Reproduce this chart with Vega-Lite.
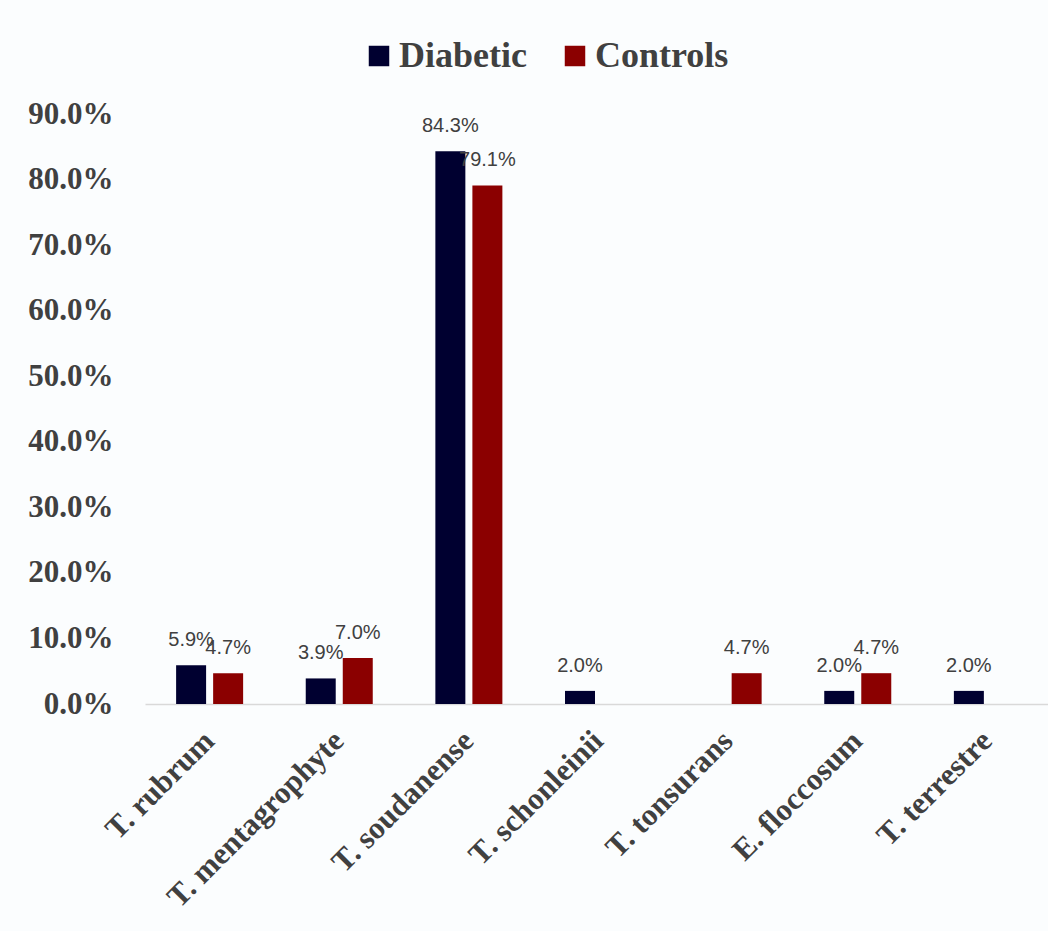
{
  "$schema": "https://vega.github.io/schema/vega-lite/v6.json",
  "width": 907,
  "height": 590,
  "autosize": {"type": "none"},
  "padding": {"left": 145, "top": 114, "right": 0, "bottom": 227},
  "background": "#fbfdfe",
  "config": {"view": {"stroke": null}},
  "data": {
    "values": [
      {"species": "T. rubrum", "group": "Diabetic", "value": 0.059},
      {"species": "T. rubrum", "group": "Controls", "value": 0.047},
      {"species": "T. mentagrophyte", "group": "Diabetic", "value": 0.039},
      {"species": "T. mentagrophyte", "group": "Controls", "value": 0.070},
      {"species": "T. soudanense", "group": "Diabetic", "value": 0.843},
      {"species": "T. soudanense", "group": "Controls", "value": 0.791},
      {"species": "T. schonleinii", "group": "Diabetic", "value": 0.020},
      {"species": "T. tonsurans", "group": "Controls", "value": 0.047},
      {"species": "E. floccosum", "group": "Diabetic", "value": 0.020},
      {"species": "E. floccosum", "group": "Controls", "value": 0.047},
      {"species": "T. terrestre", "group": "Diabetic", "value": 0.020}
    ]
  },
  "encoding": {
    "x": {
      "field": "species",
      "type": "nominal",
      "sort": null,
      "scale": {"paddingInner": 0.483, "paddingOuter": 0.24},
      "axis": {
        "title": null,
        "labelAngle": -45,
        "labelAlign": "right",
        "labelBaseline": "middle",
        "labelFont": "Liberation Serif",
        "labelFontWeight": "bold",
        "labelFontSize": 31,
        "labelColor": "#404040",
        "labelPadding": 32,
        "labelLimit": 500,
        "ticks": false,
        "domainColor": "#d9d9d9",
        "domainWidth": 1.5
      }
    },
    "xOffset": {
      "field": "group",
      "type": "nominal",
      "sort": ["Diabetic", "Controls"],
      "scale": {"domain": ["Diabetic", "Controls"], "paddingInner": 0.19, "paddingOuter": 0}
    },
    "y": {
      "field": "value",
      "type": "quantitative",
      "scale": {"domain": [0, 0.9]},
      "axis": {
        "title": null,
        "values": [0, 0.1, 0.2, 0.3, 0.4, 0.5, 0.6, 0.7, 0.8, 0.9],
        "format": ".1%",
        "grid": false,
        "domain": false,
        "ticks": false,
        "labelFont": "Liberation Serif",
        "labelFontWeight": "bold",
        "labelFontSize": 31,
        "labelColor": "#404040",
        "labelPadding": 32
      }
    }
  },
  "layer": [
    {
      "mark": {"type": "bar"},
      "encoding": {
        "color": {
          "field": "group",
          "type": "nominal",
          "sort": ["Diabetic", "Controls"],
          "scale": {"domain": ["Diabetic", "Controls"], "range": ["#000030", "#8b0000"]},
          "legend": {
            "title": null,
            "orient": "none",
            "direction": "horizontal",
            "legendX": 216,
            "legendY": -76,
            "symbolType": "square",
            "symbolSize": 420,
            "symbolStrokeWidth": 0,
            "labelFont": "Liberation Serif",
            "labelFontWeight": "bold",
            "labelFontSize": 36,
            "labelColor": "#404040",
            "labelOffset": 2,
            "columnPadding": 30,
            "labelLimit": 300
          }
        }
      }
    },
    {
      "mark": {"type": "text", "baseline": "alphabetic", "dy": -19, "font": "Liberation Sans", "fontSize": 20, "color": "#404040"},
      "encoding": {
        "text": {"field": "value", "type": "quantitative", "format": ".1%"}
      }
    }
  ]
}
